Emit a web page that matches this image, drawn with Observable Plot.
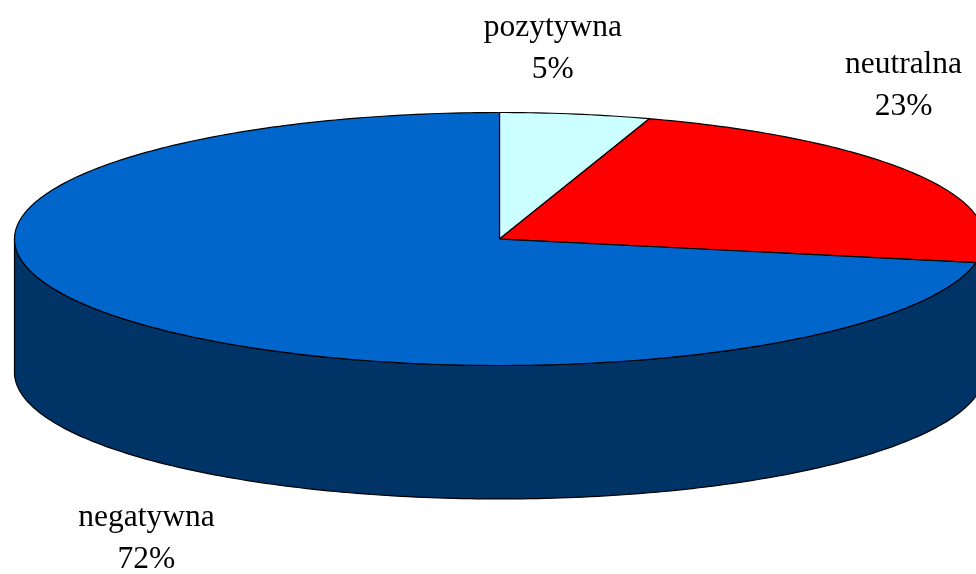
<!DOCTYPE html>
<html><head><meta charset="utf-8">
<script src="https://cdn.jsdelivr.net/npm/d3@7"></script>
<script src="https://cdn.jsdelivr.net/npm/@observablehq/plot@0.6"></script>
<style>html,body{margin:0;padding:0;background:#fff;overflow:hidden}svg{display:block;filter:blur(0.45px)}</style>
</head><body><div id="chart"></div>
<script>
const categories = ["pozytywna", "neutralna", "negatywna"];
const shares = [5, 23, 72];
const topColors = ["#ccffff", "#ff0000", "#0066cc"];
const sideColor = "#003366";
const depth = 1.055;
const labelAnchors = [[0.11, 1.543], [0.833, 1.254], [-0.728, -2.33]];

const tau = 2 * Math.PI, step = 0.25;
const P = (a, d = 0) => ({x: Math.sin(tau * a / 100), y: Math.cos(tau * a / 100) - d});
const slices = [];
let start = 0;
shares.forEach((s, i) => {
  const pts = [{x: 0, y: 0}];
  for (let a = start; a < start + s; a += step) pts.push(P(a));
  pts.push(P(start + s), {x: 0, y: 0});
  pts.forEach((p, k) => slices.push({...p, k: categories[i], o: k}));
  start += s;
});
// visible wall: front half of the rim, extruded downward
const wall = [];
for (let a = 25; a <= 75; a += step) wall.push(P(a));
for (let a = 75; a >= 25; a -= step) wall.push(P(a, depth));
wall.push(P(25));
const labels = categories.map((c, i) => ({text: `${c}\n${shares[i]}%`, x: labelAnchors[i][0], y: labelAnchors[i][1]}));

const plot = Plot.plot({
  width: 976, height: 574, margin: 0,
  style: {background: "#fff", overflow: "hidden"},
  x: {domain: [-1, 1], range: [14, 984], axis: null},
  y: {domain: [1, -1], range: [112, 365], axis: null},
  color: {domain: categories, range: topColors},
  marks: [
    Plot.line(wall, {x: "x", y: "y", fill: sideColor, stroke: "#000", strokeWidth: 1.2, curve: "linear"}),
    Plot.line(slices, {x: "x", y: "y", z: "k", fill: "k", stroke: "#000", strokeWidth: 1.2, curve: "linear"}),
    Plot.text(labels, {x: "x", y: "y", text: "text", fontFamily: "Liberation Serif", fontSize: 31.5, lineHeight: 1.33, fill: "#000"})
  ]
});
document.getElementById("chart").append(plot);
</script></body></html>
